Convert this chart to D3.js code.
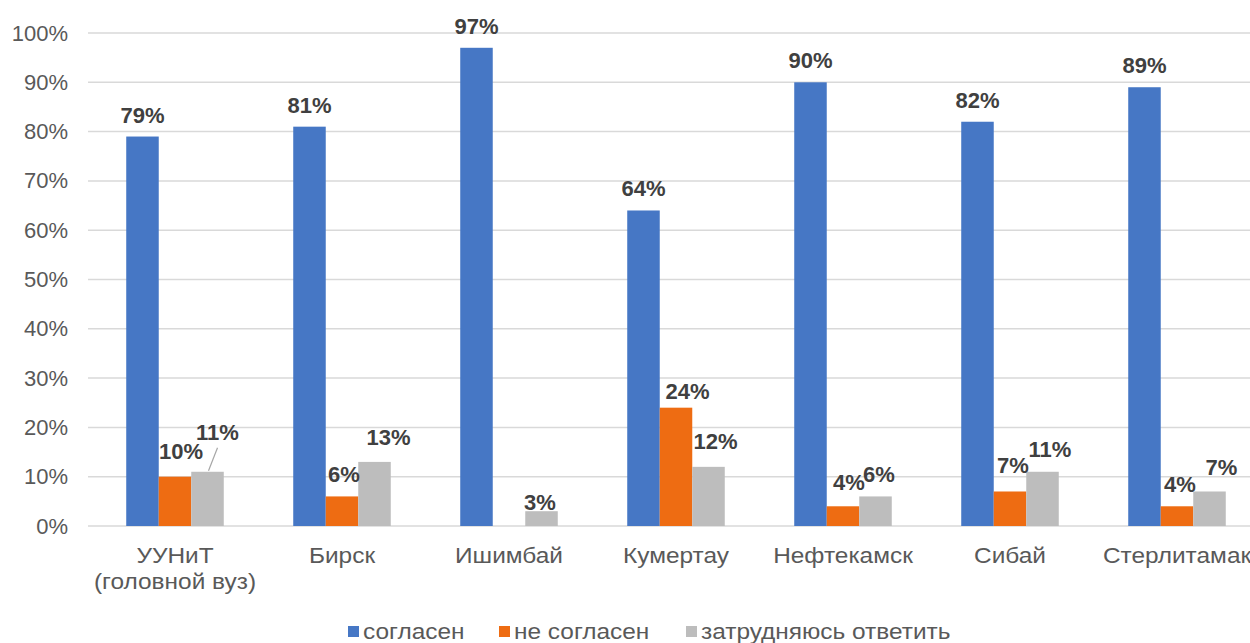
<!DOCTYPE html>
<html><head><meta charset="utf-8">
<script src="https://cdn.jsdelivr.net/npm/d3@7"></script>
<style>body{margin:0;background:#fff}svg{display:block}text{font-family:"Liberation Sans",Arial,sans-serif}</style>
</head><body>
<script>
const categories = [["УУНиТ","(головной вуз)"],["Бирск"],["Ишимбай"],["Кумертау"],["Нефтекамск"],["Сибай"],["Стерлитамак"]];
const seriesNames = ["согласен","не согласен","затрудняюсь ответить"];
const agree    = [79, 81, 97, 64, 90, 82, 89];
const disagree = [10, 6, 0, 24, 4, 7, 4];
const unsure   = [11, 13, 3, 12, 6, 11, 7];
const yTicks = [0,10,20,30,40,50,60,70,80,90,100];

// layout constants (manual label nudges as in the original)
const colors = ["#4677C5","#EE6C12","#BDBDBD"];
const labelNudge = [
  [[0,0],[0,0],[0,0],[0,0],[0,0],[0,0],[0,0]],
  [[6,-6],[2,-2],[0,0],[11.5,3],[6,-4],[3,-6.5],[3,-2]],
  [[10,-20],[14,-5],[-1.5,11],[7,-6],[3.5,-2.5],[7.5,-3],[12,-4.5]]
];
const stretch = 1.11;

const W=1250,H=643;
const svg=d3.select("body").append("svg").attr("width",W).attr("height",H);
const catKeys=categories.map(c=>c.join(" "));
const x0=d3.scaleBand().domain(catKeys).range([91.5,1260.5]).paddingInner(0.416).paddingOuter(0.208);
const x1=d3.scaleBand().domain(seriesNames).range([0,x0.bandwidth()]);
const y=d3.scaleLinear().domain([0,100]).range([526,33]);
const data=[agree,disagree,unsure];

// gridlines
svg.append("g").selectAll("line").data(yTicks).join("line")
  .attr("x1",88).attr("x2",W).attr("y1",d=>y(d)).attr("y2",d=>y(d))
  .attr("stroke","#D9D9D9").attr("stroke-width",1.5);

// y axis labels
const yAxis=d3.axisLeft(y).tickValues(yTicks).tickFormat(d=>d+"%").tickSize(0).tickPadding(0);
const ya=svg.append("g").attr("transform","translate(68,0)").call(yAxis);
ya.select(".domain").remove();
ya.selectAll("text").attr("font-size",22).attr("fill","#595959").attr("font-family","Liberation Sans, Arial, sans-serif");

// bars
data.forEach((vals,si)=>{
  svg.append("g").selectAll("rect").data(vals.map((v,i)=>({v,i}))).join("rect")
    .filter(d=>d.v>0)
    .attr("x",d=>x0(catKeys[d.i])+x1(seriesNames[si]))
    .attr("width",x1.bandwidth())
    .attr("y",d=>y(d.v)).attr("height",d=>y(0)-y(d.v))
    .attr("fill",colors[si]);
});

// leader line for УУНиТ unsure label
{
  const bx=x0(catKeys[0])+x1(seriesNames[2])+x1.bandwidth()/2;
  svg.append("line").attr("x1",bx+1).attr("y1",y(unsure[0])-1).attr("x2",bx+10).attr("y2",y(unsure[0])-24)
    .attr("stroke","#A6A6A6").attr("stroke-width",1.2);
}

// data labels
data.forEach((vals,si)=>{
  svg.append("g").selectAll("text").data(vals.map((v,i)=>({v,i}))).join("text")
    .filter(d=>d.v>0)
    .attr("x",d=>x0(catKeys[d.i])+x1(seriesNames[si])+x1.bandwidth()/2+labelNudge[si][d.i][0])
    .attr("y",d=>y(d.v)-(si===0?14:12)+labelNudge[si][d.i][1])
    .attr("text-anchor","middle").attr("font-size",22).attr("font-weight","bold").attr("fill","#404040")
    .text(d=>d.v+"%");
});

// category labels
const cg=svg.append("g");
categories.forEach((lines,i)=>{
  const cx=x0(catKeys[i])+x0.bandwidth()/2;
  const t=cg.append("text").attr("transform",`translate(${cx},563) scale(${stretch},1)`)
    .attr("text-anchor","middle").attr("font-size",22).attr("fill","#595959");
  lines.forEach((l,j)=>t.append("tspan").attr("x",0).attr("dy",j===0?0:26).text(l));
});

// legend
const legX=[348,499,686];
const lg=svg.append("g");
seriesNames.forEach((s,i)=>{
  lg.append("rect").attr("x",legX[i]).attr("y",626).attr("width",11).attr("height",11).attr("fill",colors[i]);
  lg.append("text").attr("transform",`translate(${legX[i]+15},638.5) scale(${stretch},1)`)
    .attr("font-size",22).attr("fill","#595959").text(s);
});
</script>
</body></html>
